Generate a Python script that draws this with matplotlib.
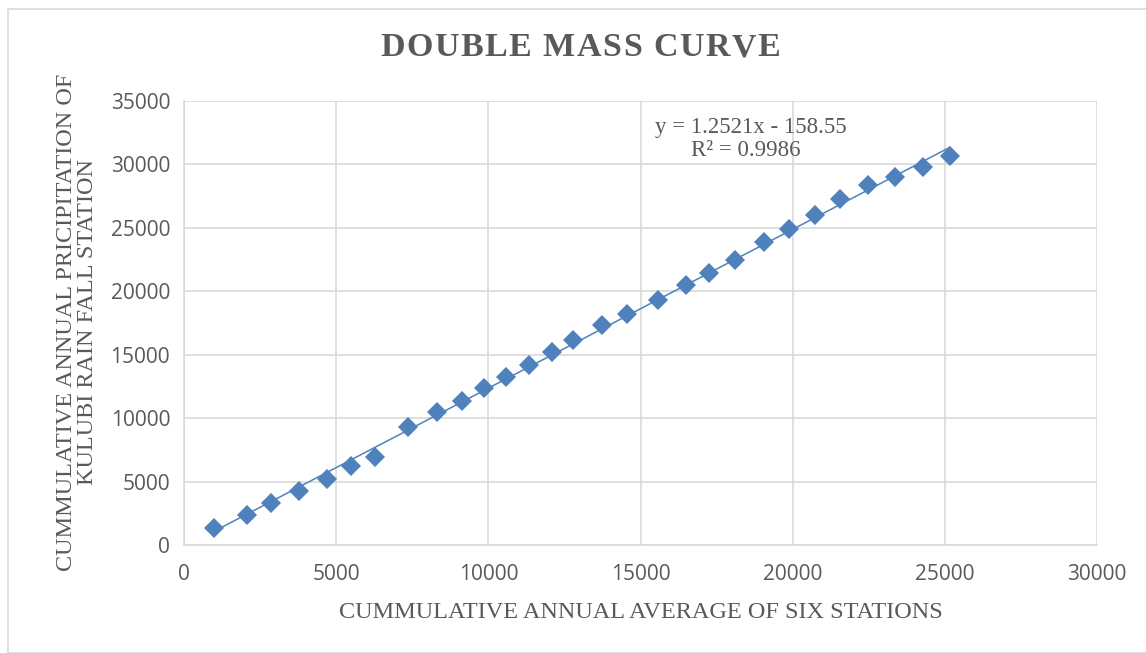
import matplotlib
matplotlib.use("Agg")
import matplotlib.pyplot as plt
from matplotlib.patches import Rectangle
import numpy as np

avg_six = [986, 2070, 2860, 3780, 4700, 5490, 6277, 7361, 8314, 9136, 9859,
           10582, 11338, 12094, 12784, 13737, 14558, 15577, 16497, 17253,
           18107, 19060, 19882, 20736, 21558, 22478, 23365, 24285, 25173]
kulubi = [1340, 2365, 3310, 4257, 5203, 6227, 6937, 9300, 10484, 11351, 12376,
          13243, 14189, 15214, 16159, 17342, 18209, 19312, 20495, 21441,
          22466, 23884, 24909, 26012, 27273, 28377, 29008, 29796, 30663]
slope = 1.2521
intercept = -158.55
r2 = 0.9986
x_ticks = [0, 5000, 10000, 15000, 20000, 25000, 30000]
y_ticks = [0, 5000, 10000, 15000, 20000, 25000, 30000, 35000]
title = "DOUBLE MASS CURVE"

W, H = 1146, 653
fig = plt.figure(figsize=(W / 100, H / 100), dpi=100)
ax = fig.add_axes([184 / W, 1 - 545 / H, (1097 - 184) / W, (545 - 101) / H])

blue = "#4F81BD"
grid = "#D9D9D9"
tick_col = "#595959"
serif = "Liberation Serif"

xs = np.array([min(avg_six), max(avg_six)])
ax.plot(xs, slope * xs + intercept, color=blue, lw=1.1, zorder=2)
ax.plot(avg_six, kulubi, ls="none", marker="D", ms=10, color=blue,
        markeredgewidth=0, zorder=3)

ax.set_xlim(0, 30000)
ax.set_ylim(0, 35000)
ax.set_xticks(x_ticks)
ax.set_yticks(y_ticks)
ax.grid(True, color=grid, lw=1.2, zorder=0)
ax.set_axisbelow(True)
for s in ["top", "right"]:
    ax.spines[s].set_visible(False)
for s in ["bottom", "left"]:
    ax.spines[s].set_color(grid)
    ax.spines[s].set_linewidth(1.2)
ax.tick_params(length=0, labelsize=15, labelcolor=tick_col)
ax.tick_params(axis="x", pad=14)
ax.tick_params(axis="y", pad=10)
for lab in ax.get_xticklabels() + ax.get_yticklabels():
    lab.set_fontfamily("Open Sans")

# title with slight letter spacing
fig.canvas.draw()
renderer = fig.canvas.get_renderer()
tfs = 24.5
extra = 1.5
widths = []
for ch in title:
    if ch == " ":
        t = fig.text(0, 0, "x x", fontsize=tfs, fontweight="bold", family=serif)
        t2 = fig.text(0, 0, "xx", fontsize=tfs, fontweight="bold", family=serif)
        w = t.get_window_extent(renderer).width - t2.get_window_extent(renderer).width
        t.remove(); t2.remove()
    else:
        t = fig.text(0, 0, ch, fontsize=tfs, fontweight="bold", family=serif)
        w = t.get_window_extent(renderer).width
        t.remove()
    widths.append(w)
total = sum(widths) + extra * (len(title) - 1)
x = 580 - total / 2
for ch, w in zip(title, widths):
    if ch != " ":
        fig.text(x / W, 1 - 48 / H, ch, ha="left", va="center", fontsize=tfs,
                 fontweight="bold", family=serif, color="#595959")
    x += w + extra

fig.text(641 / W, 1 - 613 / H, "CUMMULATIVE ANNUAL AVERAGE OF SIX STATIONS",
         ha="center", va="center", fontsize=17.5, family=serif, color=tick_col)
fig.text(77 / W, 1 - 322 / H,
         "CUMMULATIVE ANNUAL PRICIPITATION OF\nKULUBI RAIN FALL STATION",
         ha="center", va="center", rotation=90, fontsize=17.5, family=serif,
         color=tick_col, linespacing=1.0)
fig.text(751 / W, 1 - 127 / H, f"y = {slope}x - {abs(intercept)}",
         ha="center", va="center", fontsize=16.5, family=serif, color=tick_col)
fig.text(746 / W, 1 - 150 / H, f"R² = {r2}",
         ha="center", va="center", fontsize=16.5, family=serif, color=tick_col)

fig.patches.append(Rectangle((8 / W, 0), 1.2, 1 - 9 / H, transform=fig.transFigure,
                             fill=False, edgecolor=grid, lw=1.2))
fig.savefig("out.png", dpi=100)
